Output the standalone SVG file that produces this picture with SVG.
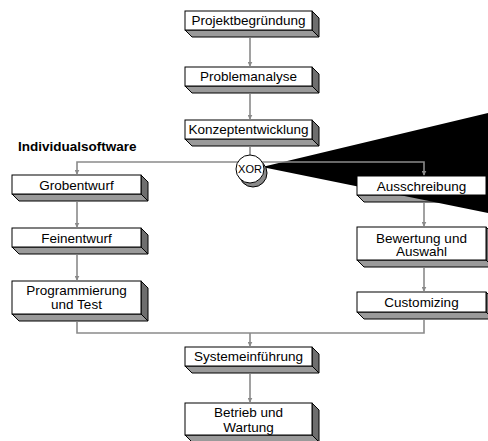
<svg xmlns="http://www.w3.org/2000/svg" width="488" height="441" viewBox="0 0 488 441">
<style>
.face{fill:#fff;stroke:#000;stroke-width:1}
.side{fill:#6e6e6e;stroke:#000;stroke-width:1}
.bot{fill:#9a9a9a;stroke:#000;stroke-width:1}
.t{font-family:"Liberation Sans",Arial,sans-serif;font-size:13.5px;fill:#000;text-anchor:middle}
.c{fill:none;stroke:#8a8a8a;stroke-width:1.6}
</style>
<defs>
<marker id="ah" viewBox="0 0 8 8" refX="7" refY="4" markerWidth="5" markerHeight="5" orient="auto" markerUnits="userSpaceOnUse">
<path d="M0,0 L8,4 L0,8 z" fill="#8a8a8a"/>
</marker>
<mask id="wm">
<rect width="488" height="441" fill="#fff"/>
<rect x="357" y="176" width="129" height="19" fill="#000"/>
</mask>
</defs>
<rect width="488" height="441" fill="#fff"/>
<text id="label" x="18" y="150.5" style="font-family:'Liberation Sans',Arial,sans-serif;font-size:13.5px;font-weight:bold">Individualsoftware</text>
<g id="n1"><polygon class="side" points="312,11 319,18 319,37 312,30"/><polygon class="bot" points="185,30 312,30 319,37 192,37"/><rect class="face" x="185" y="11" width="127" height="19"/><text class="t" x="248.5" y="25">Projektbegründung</text></g>
<g id="n2"><polygon class="side" points="312,67 319,74 319,93 312,86"/><polygon class="bot" points="185,86 312,86 319,93 192,93"/><rect class="face" x="185" y="67" width="127" height="19"/><text class="t" x="248.5" y="81">Problemanalyse</text></g>
<g id="n3"><polygon class="side" points="312,120 319,127 319,146 312,139"/><polygon class="bot" points="185,139 312,139 319,146 192,146"/><rect class="face" x="185" y="120" width="127" height="19"/><text class="t" x="248.5" y="134">Konzeptentwicklung</text></g>
<g id="n4"><polygon class="side" points="141,175 148,182 148,201 141,194"/><polygon class="bot" points="12,194 141,194 148,201 19,201"/><rect class="face" x="12" y="175" width="129" height="19"/><text class="t" x="76.5" y="189.5">Grobentwurf</text></g>
<g id="n5"><polygon class="side" points="141,228 148,235 148,254 141,247"/><polygon class="bot" points="12,247 141,247 148,254 19,254"/><rect class="face" x="12" y="228" width="129" height="19"/><text class="t" x="76.5" y="243">Feinentwurf</text></g>
<g id="n6"><polygon class="side" points="141,281 148,288 148,321 141,314"/><polygon class="bot" points="12,314 141,314 148,321 19,321"/><rect class="face" x="12" y="281" width="129" height="33"/><text class="t" x="76.5" y="295">Programmierung</text><text class="t" x="76.5" y="309">und Test</text></g>
<g id="n7"><polygon class="side" points="486,176 493,183 493,202 486,195"/><polygon class="bot" points="357,195 486,195 493,202 364,202"/><rect class="face" x="357" y="176" width="129" height="19"/><text class="t" x="421.5" y="190.5">Ausschreibung</text></g>
<g id="n8"><polygon class="side" points="486,227 493,234 493,267 486,260"/><polygon class="bot" points="357,260 486,260 493,267 364,267"/><rect class="face" x="357" y="227" width="129" height="33"/><text class="t" x="421.5" y="242.5">Bewertung und</text><text class="t" x="421.5" y="256">Auswahl</text></g>
<g id="n9"><polygon class="side" points="486,292 493,299 493,319 486,312"/><polygon class="bot" points="357,312 486,312 493,319 364,319"/><rect class="face" x="357" y="292" width="129" height="20"/><text class="t" x="421.5" y="306.5">Customizing</text></g>
<g id="n10"><polygon class="side" points="312,347 319,354 319,373 312,366"/><polygon class="bot" points="185,366 312,366 319,373 192,373"/><rect class="face" x="185" y="347" width="127" height="19"/><text class="t" x="248.5" y="361">Systemeinführung</text></g>
<g id="n11"><polygon class="side" points="312,403 319,410 319,442 312,435"/><polygon class="bot" points="185,435 312,435 319,442 192,442"/><rect class="face" x="185" y="403" width="127" height="32"/><text class="t" x="248.5" y="417">Betrieb und</text><text class="t" x="248.5" y="431.5">Wartung</text></g>
<polygon id="artifact" points="262,167 488,113 488,213" fill="#000" mask="url(#wm)"/>
<g id="connectors">
<path class="c" d="M250,38 V66" marker-end="url(#ah)"/>
<path class="c" d="M250,94 V119" marker-end="url(#ah)"/>
<path class="c" d="M250,147 V158"/>
<path class="c" d="M250,162 H77 V174" marker-end="url(#ah)"/>
<path class="c" d="M250,162 H424 V175" marker-end="url(#ah)"/>
<path class="c" d="M77,202 V227" marker-end="url(#ah)"/>
<path class="c" d="M77,255 V280" marker-end="url(#ah)"/>
<path class="c" d="M424,203 V226" marker-end="url(#ah)"/>
<path class="c" d="M424,268 V291" marker-end="url(#ah)"/>
<path class="c" d="M77,322 V333 H424 V320"/>
<path class="c" d="M250,333 V346" marker-end="url(#ah)"/>
<path class="c" d="M250,374 V402" marker-end="url(#ah)"/>
</g>
<g id="xor"><circle cx="253" cy="173" r="14" fill="#8a8a8a" stroke="#000"/><circle cx="250" cy="169" r="14" fill="#fff" stroke="#000"/><text class="t" x="250" y="173" style="font-size:11px">XOR</text></g>
</svg>
